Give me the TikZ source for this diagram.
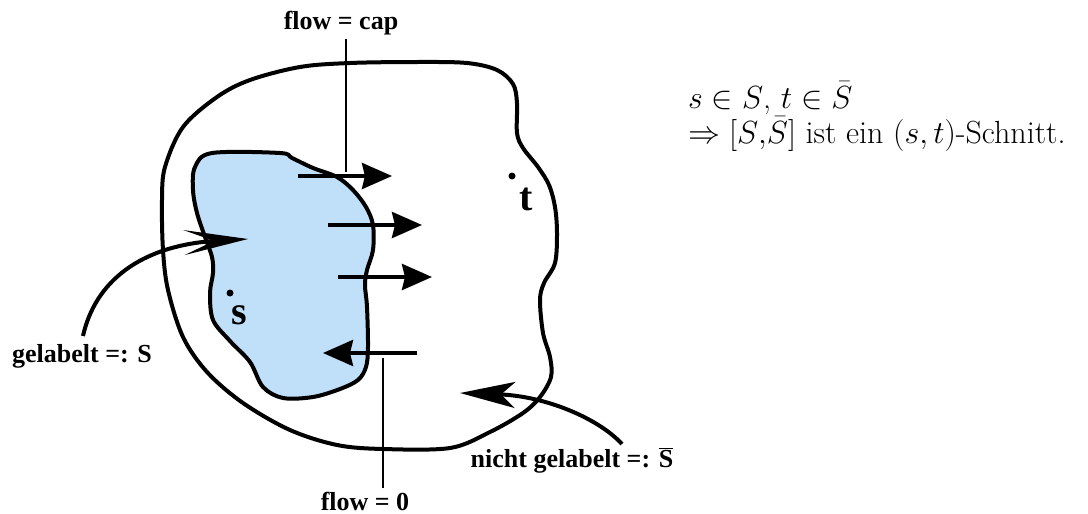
\RequirePackage{fix-cm}
\documentclass[tikz,border=0pt]{standalone}
\usepackage{fontspec}
\newfontfamily\tnr{Liberation Serif}
\usetikzlibrary{arrows.meta}
\definecolor{lblue}{RGB}{192,224,250}
\tikzset{
  blob/.style={line width=4pt, line join=round},
  flowarrow/.style={line width=4pt, -{Stealth[length=30pt,width=26pt,inset=3pt]}},
  thinline/.style={line width=2pt},
  curvearrow/.style={line width=4pt},
  lab/.style={font=\tnr\bfseries\fontsize{26}{30}\selectfont, inner sep=0pt},
  vlab/.style={font=\tnr\bfseries\fontsize{40}{44}\selectfont, inner sep=0pt},
  mathlab/.style={font=\fontsize{32}{35}\selectfont, inner sep=0pt, align=left, anchor=base west},
  pt/.style={circle, fill=black, inner sep=0pt, minimum size=7pt}
}
\begin{document}
\begin{tikzpicture}[x=1pt,y=-1pt]
\useasboundingbox (0,0) rectangle (1088,514);
% inner blob (S)
\draw[blob, fill=lblue] plot[smooth cycle, tension=0.55] coordinates {
(212,153) (280,153) (292,158) (313,168) (337,177) (353,190) (366,207) (373,225)
(373,250) (367,270) (365,285) (367,307) (368,347) (366,367) (358,380) (340,389)
(313,397) (283,398) (263,387) (250,362) (230,341) (213,320) (210,293) (213,273)
(212,257) (205,237) (197,213) (193,190) (195,167)};
% outer blob
\draw[blob] plot[smooth cycle, tension=0.55] coordinates {
(300,67) (350,63) (417,62) (467,63) (497,70) (513,84) (517,103) (517,133) (523,148)
(538,167) (549,185) (555,207) (557,233) (555,263) (544,283) (540,300) (543,333)
(550,357) (551,377) (540,397) (523,413) (490,432) (450,448) (383,449) (337,445)
(290,430) (243,403) (207,372) (183,337) (168,290) (163,250) (162,200) (165,167)
(183,127) (217,97) (250,80)};
% labels
\node[lab, anchor=base] (fc) at (341,30) {flow = cap};
\node[lab, anchor=base] (f0) at (365,510) {flow = 0};
\node[lab, anchor=base] (gl) at (82,362) {gelabelt =: S};
\node[lab, anchor=base] (ngl) at (572,467) {nicht gelabelt =: $\overline{\hbox{S}}$};
% s and t
\node[pt] (sdot) at (230,293) {};
\node[vlab] (slab) at (239,315) {s};
\node[pt] (tdot) at (512,176) {};
\node[vlab] (tlab) at (526,199) {t};
% flow arrows
\coordinate (a1s) at (298,176); \coordinate (a1e) at (392,176);
\coordinate (a2s) at (328,225); \coordinate (a2e) at (422,225);
\coordinate (a3s) at (338,277); \coordinate (a3e) at (432,277);
\coordinate (a4s) at (417,353); \coordinate (a4e) at (323,353);
\draw[flowarrow] (a1s) -- (a1e);
\draw[flowarrow] (a2s) -- (a2e);
\draw[flowarrow] (a3s) -- (a3e);
\draw[flowarrow] (a4s) -- (a4e);
% vertical flow lines
\coordinate (capend) at (346,172);
\coordinate (zeroend) at (383,358);
\draw[thinline] (capend |- fc.south) ++(0,3) -- (capend);
\draw[thinline] (zeroend |- f0.north) ++(0,-3) -- (zeroend);
% curved arrows
\coordinate (gls) at (83,336);
\coordinate (gle) at (248,239);
\draw[curvearrow, -{Stealth[length=64pt,width=25pt,inset=30pt]}] (gls) .. controls (95,282) and (140,245) .. (gle);
\coordinate (ngs) at (622,444);
\coordinate (nge) at (460,393);
\draw[curvearrow, -{Stealth[length=55pt,width=26pt,inset=14pt]}] (ngs) .. controls (598,418) and (545,396) .. (nge);
% math text
\node[mathlab] (m) at (688,143) {$s\in S$, $t\in \bar{S}$\\$\Rightarrow [S{,}\bar{S}]$ ist ein $(s,t)$-Schnitt.};
\end{tikzpicture}
\end{document}
